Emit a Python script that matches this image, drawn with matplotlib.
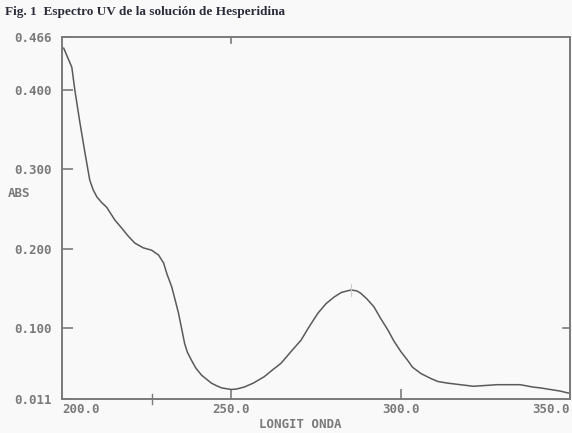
import matplotlib.pyplot as plt

# espectro UV
longitud = [200.5, 201.5, 202.9, 203.8, 205.3, 206.8, 208.2, 209.2, 210.3, 211.7,
            213.2, 215.6, 217.6, 219.5, 221.5, 224.0, 226.5, 228.5, 230.0, 231.0,
            232.4, 233.5, 234.4, 235.3, 236.2, 237.0, 238.2, 239.5, 241.2, 244.1,
            245.5, 247.1, 248.5, 250.0, 251.5, 253.8, 256.5, 259.7, 262.0, 264.7,
            267.5, 270.6, 273.0, 275.6, 278.0, 280.3, 282.5, 285.3, 287.0, 288.2,
            290.0, 292.1, 294.0, 296.2, 298.0, 300.0, 302.0, 303.5, 306.0, 308.8,
            311.0, 313.8, 321.5, 328.5, 335.3, 339.1, 341.2, 347.1, 350.0]
absorb = [0.452, 0.442, 0.428, 0.399, 0.358, 0.320, 0.286, 0.274, 0.265, 0.258,
          0.252, 0.236, 0.226, 0.216, 0.207, 0.201, 0.198, 0.192, 0.182, 0.168,
          0.152, 0.134, 0.119, 0.100, 0.081, 0.070, 0.060, 0.050, 0.041, 0.031,
          0.028, 0.025, 0.024, 0.023, 0.0235, 0.026, 0.031, 0.039, 0.047, 0.056,
          0.070, 0.085, 0.102, 0.119, 0.131, 0.139, 0.145, 0.148, 0.147, 0.144,
          0.137, 0.127, 0.113, 0.098, 0.084, 0.071, 0.060, 0.051, 0.043, 0.037,
          0.033, 0.031, 0.027, 0.029, 0.029, 0.026, 0.025, 0.021, 0.018]

y_ticks = [0.011, 0.100, 0.200, 0.300, 0.400, 0.466]
y_labels = ['0.011', '0.100', '0.200', '0.300', '0.400', '0.466']
x_ticks = [200, 250, 300, 350]
x_labels = ['200.0', '250.0', '300.0', '350.0']

fondo = '#f8f9f8'
gris = '#7a7a7a'
mono = {'family': 'DejaVu Sans Mono', 'weight': 'bold', 'size': 9, 'color': gris}

fig = plt.figure(figsize=(5.72, 4.33), dpi=100, facecolor=fondo)
ax = fig.add_axes([0.1084, 0.0785, 0.888, 0.836], facecolor=fondo)

ax.plot(longitud, absorb, color='#5a5a5a', lw=1.1)
ax.set_xlim(200, 350)
ax.set_ylim(0.011, 0.466)

for s in ax.spines.values():
    s.set_color(gris)
    s.set_linewidth(1.4)

ax.set_yticks(y_ticks)
ax.set_yticklabels(y_labels, fontdict=mono)
ax.tick_params(axis='y', direction='in', length=8, width=1.2, color=gris, pad=12)
for lab in ax.get_yticklabels():
    lab.set_horizontalalignment('left')
    lab.set_x(-0.061)

ax.set_xticks(x_ticks)
ax.set_xticklabels(x_labels, fontdict=mono)
ax.tick_params(axis='x', direction='in', length=7, width=1.2, color=gris, pad=3)
xl = ax.get_xticklabels()
xl[0].set_horizontalalignment('left')
xl[-1].set_horizontalalignment('right')

# marcas sueltas del instrumento
ax.plot([226.5, 226.5], [0.005, 0.017], color=gris, lw=1, clip_on=False)
ax.plot([250, 250], [0.466, 0.458], color=gris, lw=1.2)
ax.plot([348, 350], [0.100, 0.100], color=gris, lw=1.2)
ax.plot([285.3, 285.3], [0.140, 0.156], color='#cccccc', lw=0.8)

fig.text(0.014, 0.545, 'ABS', fontdict=mono)
fig.text(0.525, 0.012, 'LONGIT ONDA', fontdict=mono, ha='center')
fig.text(0.009, 0.965, 'Fig. 1  Espectro UV de la solución de Hesperidina',
         family='Liberation Serif', weight='bold', size=9.5, color='#2b2b3a')

fig.savefig('out.png', dpi=100, facecolor=fondo)
